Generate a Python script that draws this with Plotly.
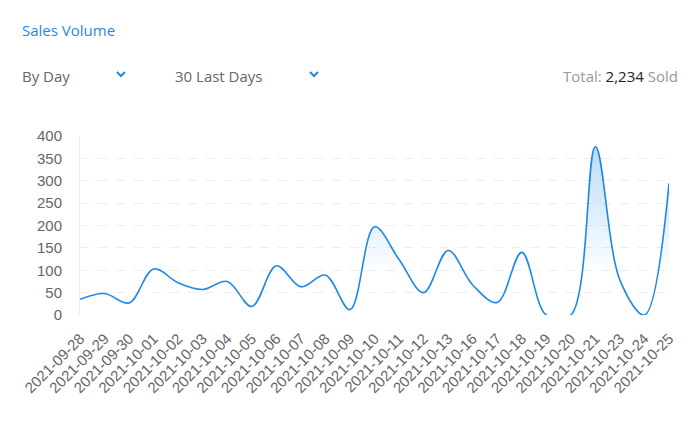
import plotly.graph_objects as go

# 日付ごとの販売数
DATES = ['2021-09-28', '2021-09-29', '2021-09-30', '2021-10-01', '2021-10-02', '2021-10-03',
         '2021-10-04', '2021-10-05', '2021-10-06', '2021-10-07', '2021-10-08', '2021-10-09',
         '2021-10-10', '2021-10-11', '2021-10-12', '2021-10-13', '2021-10-16', '2021-10-17',
         '2021-10-18', '2021-10-19', '2021-10-20', '2021-10-21', '2021-10-23', '2021-10-24',
         '2021-10-25']
SALES = [35, 48, 27, 103, 72, 57, 75, 19, 110, 63, 89, 12,
         197, 124, 50, 144, 67, 28, 140, 0, 0, 376, 78, 0, 294]
Y_TICKS = [0, 50, 100, 150, 200, 250, 300, 350, 400]

TOTAL_TEXT = '2,234'
LINE_COLOR = '#1e88e5'

# ページの body margin (8px) 分ずらす
OFF = 8
W, H = 696 - 2 * OFF, 425 - 2 * OFF
L, R, T, B = 80 - OFF, W - (669 - OFF), 136 - OFF, H - (315 - OFF)
PW, PH = W - L - R, H - T - B


def px(x):
    """スクリーン上のピクセル位置 -> paper 座標"""
    return (x - OFF - L) / PW


def py(y):
    return (H - B - (y - OFF)) / PH


def chevron(cx, cy):
    """ドロップダウンの矢印"""
    return dict(type='path', xref='paper', yref='paper',
                path=f'M {px(cx - 4)},{py(cy - 2)} L {px(cx)},{py(cy + 2)} L {px(cx + 4)},{py(cy - 2)}',
                line=dict(color=LINE_COLOR, width=2))


fig = go.Figure()
fig.add_trace(go.Scatter(
    x=DATES, y=SALES, mode='lines', fill='tozeroy',
    line=dict(color=LINE_COLOR, width=1.6, shape='spline', smoothing=1),
    fillgradient=dict(type='vertical', start=90, stop=380,
                      colorscale=[[0, 'rgba(30,136,229,0)'], [1, 'rgba(30,136,229,0.3)']]),
    hovertemplate='%{x}: %{y}<extra></extra>'
))

head_font = dict(family='Open Sans', size=15)
annotations = [
    dict(x=px(20), y=py(30), text='Sales Volume', font=dict(head_font, color=LINE_COLOR)),
    dict(x=px(20), y=py(76), text='By Day', font=dict(head_font, color='#666666')),
    dict(x=px(173), y=py(76), text='30 Last Days', font=dict(head_font, color='#666666')),
    dict(x=px(680), y=py(76), xanchor='right',
         text=f"Total: <span style='color:#222222'>{TOTAL_TEXT}</span> Sold",
         font=dict(head_font, color='#999999')),
]
for a in annotations:
    a.setdefault('xanchor', 'left')
    a.update(xref='paper', yref='paper', yanchor='middle', showarrow=False)

fig.update_layout(
    width=W, height=H, margin=dict(l=L, r=R, t=T, b=B),
    paper_bgcolor='white', plot_bgcolor='white', showlegend=False,
    font=dict(family='Liberation Sans', size=15, color='#666666'),
    annotations=annotations, shapes=[chevron(121, 74), chevron(314, 74)],
)
fig.update_xaxes(type='category', range=[0, len(DATES) - 1], tickangle=-45, ticklabelstandoff=11,
                 showgrid=False, showline=False, ticks='', tickfont=dict(size=15, color='#666666'))
fig.update_yaxes(range=[0, 400], tickvals=Y_TICKS, showgrid=True, gridcolor='#eeeeee', griddash='dash',
                 showline=True, linecolor='#eeeeee', zeroline=False, ticks='', ticklabelstandoff=14,
                 tickfont=dict(size=15, color='#666666'))

fig.write_html('out.html')
